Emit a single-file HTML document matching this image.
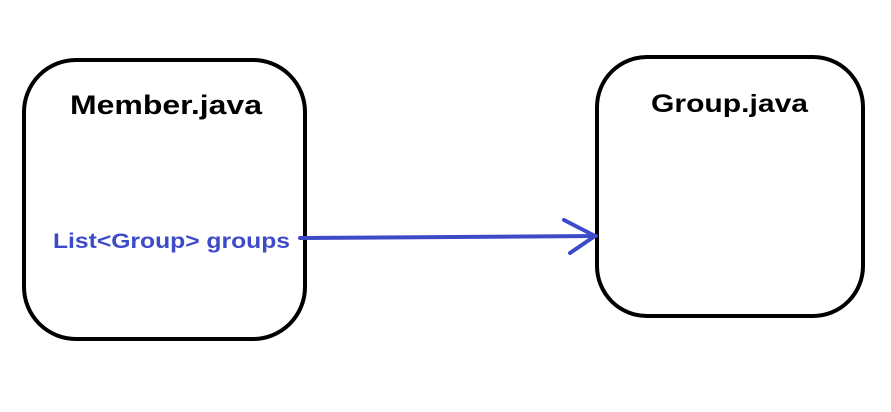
<!DOCTYPE html>
<html><head><style>
html,body{margin:0;padding:0;background:#fff;}
body{width:891px;height:407px;position:relative;overflow:hidden;font-family:"Liberation Sans",sans-serif;}
</style></head><body>
<svg width="891" height="407" viewBox="0 0 891 407" xmlns="http://www.w3.org/2000/svg">
<rect x="24" y="60" width="281" height="279" rx="52" ry="52" fill="none" stroke="#000" stroke-width="4"/>
<rect x="597" y="57" width="266" height="259" rx="50" ry="50" fill="none" stroke="#000" stroke-width="4"/>
<text x="70" y="114" textLength="192" lengthAdjust="spacingAndGlyphs" font-family="Liberation Sans, sans-serif" font-weight="bold" font-size="27" fill="#000">Member.java</text>
<text x="651" y="112" textLength="157" lengthAdjust="spacingAndGlyphs" font-family="Liberation Sans, sans-serif" font-weight="bold" font-size="25" fill="#000">Group.java</text>
<text x="53" y="248" textLength="237" lengthAdjust="spacingAndGlyphs" font-family="Liberation Sans, sans-serif" font-weight="bold" font-size="21" fill="#3d4bc9">List&lt;Group&gt; groups</text>
<path d="M300 238 L596 236" stroke="#3d4bc9" stroke-width="4" fill="none" stroke-linecap="round"/>
<path d="M564 220 L595 236 L570 253" stroke="#3d4bc9" stroke-width="4" fill="none" stroke-linecap="round" stroke-linejoin="round"/>
</svg>
</body></html>
